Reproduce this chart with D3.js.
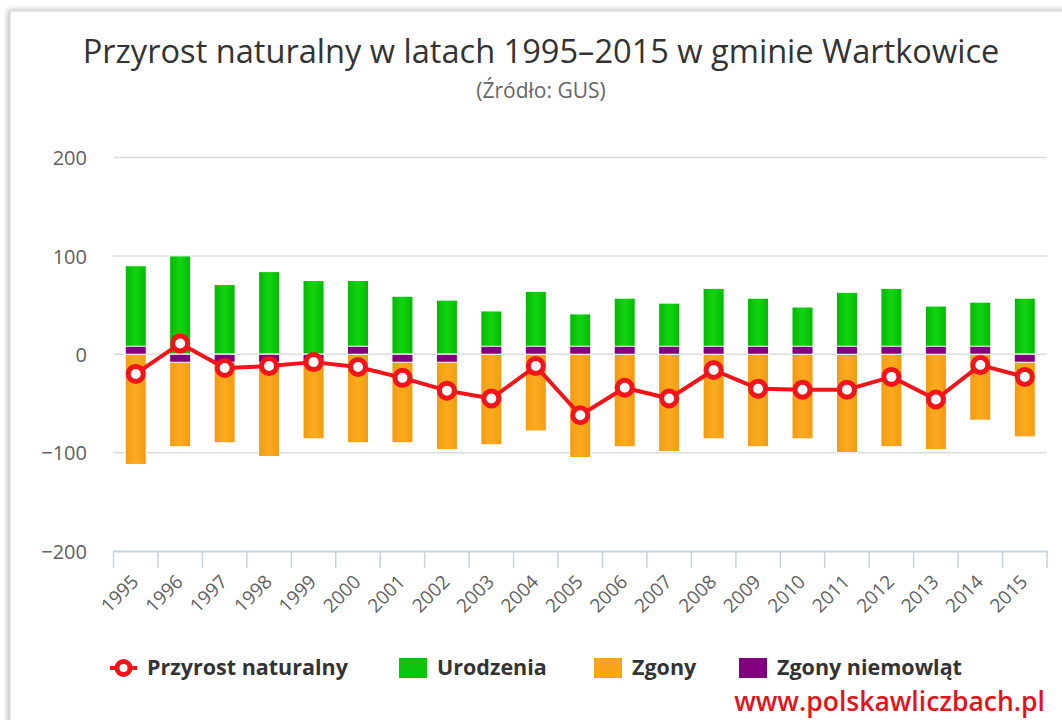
<!DOCTYPE html>
<html>
<head>
<meta charset="utf-8">
<script src="https://cdn.jsdelivr.net/npm/d3@7"></script>
<style>
  html, body { margin: 0; padding: 0; background: #fff; }
  svg { display: block; }
  text { font-family: "Open Sans", "DejaVu Sans", sans-serif; }
</style>
</head>
<body>
<svg id="chart" width="1062" height="720"></svg>
<script>
// ---- data ----
const years = ["1995","1996","1997","1998","1999","2000","2001","2002","2003","2004","2005",
               "2006","2007","2008","2009","2010","2011","2012","2013","2014","2015"];
const births = [90, 100, 71, 84, 75, 75, 59, 55, 44, 64, 41, 57, 52, 67, 57, 48, 63, 67, 49, 53, 57];
const deaths = [112, 94, 90, 104, 86, 90, 90, 97, 92, 78, 105, 94, 99, 86, 94, 86, 100, 94, 97, 67, 84];
const infantDeaths = [0, 1, 1, 1, 1, 0, 1, 1, 0, 0, 0, 0, 0, 0, 0, 0, 0, 0, 0, 0, 1];
const naturalGrowth = [-20, 11, -14, -12, -8, -13, -24, -37, -45, -12, -62, -34, -45, -16, -35, -36, -36, -23, -46, -11, -23];
const yTicks = [-200, -100, 0, 100, 200];
const titleText = "Przyrost naturalny w latach 1995–2015 w gminie Wartkowice";
const subtitleText = "(Źródło: GUS)";
const legendLabels = ["Przyrost naturalny", "Urodzenia", "Zgony", "Zgony niemowląt"];
const watermarkText = "www.polskawliczbach.pl";

// ---- setup ----
const svg = d3.select("#chart");
const defs = svg.append("defs");

const shadow = defs.append("filter").attr("id", "shadow")
  .attr("x", "-5%").attr("y", "-5%").attr("width", "110%").attr("height", "110%");
shadow.append("feDropShadow").attr("dx", -1).attr("dy", 0).attr("stdDeviation", 3)
  .attr("flood-color", "#000").attr("flood-opacity", 0.35);

function hGrad(id, edge, mid) {
  const g = defs.append("linearGradient").attr("id", id)
    .attr("x1", "0%").attr("x2", "100%").attr("y1", "0%").attr("y2", "0%");
  g.append("stop").attr("offset", "0%").attr("stop-color", edge);
  g.append("stop").attr("offset", "50%").attr("stop-color", mid);
  g.append("stop").attr("offset", "100%").attr("stop-color", edge);
}
hGrad("gGreen", "#02b802", "#12d412");
hGrad("gOrange", "#f29b12", "#fbab1e");

const colors = { line: "#f2141a", green: "url(#gGreen)", orange: "url(#gOrange)", purple: "#800080",
  greenSolid: "#0cc40c", orangeSolid: "#f8a41a" };

// card frame
svg.append("rect").attr("x", 10).attr("y", 11).attr("width", 1100).attr("height", 760)
  .attr("fill", "#fff").attr("stroke", "#d0d0d0").attr("stroke-width", 1)
  .attr("filter", "url(#shadow)");

const x = d3.scaleBand().domain(years).range([113.5, 1047]).paddingInner(0.527).paddingOuter(0.2635);
const y = d3.scaleLinear().domain([-200, 200]).range([551, 157.5]);
const bw = x.bandwidth();
const cx = d => x(d) + bw / 2;

// gridlines
svg.append("g").selectAll("line").data(yTicks.filter(t => t > -200)).join("line")
  .attr("x1", 113.5).attr("x2", 1047)
  .attr("y1", d => y(d)).attr("y2", d => y(d))
  .attr("stroke", "#dcdcdc").attr("stroke-width", 1.5);

// y axis labels
const yAxis = d3.axisLeft(y).tickValues(yTicks).tickSize(0).tickPadding(0)
  .tickFormat(d => d < 0 ? "−" + Math.abs(d) : d);
const yg = svg.append("g").attr("transform", "translate(87,0)").call(yAxis);
yg.select(".domain").remove();
yg.selectAll("text").attr("font-size", 20).attr("fill", "#606060")
  .attr("font-family", "'Open Sans', sans-serif").attr("dy", "0.36em");

// x axis
const xAxis = d3.axisBottom(x).tickSize(0).tickPadding(0);
const xg = svg.append("g").attr("transform", `translate(0,${y(-200)})`).call(xAxis);
xg.select(".domain").attr("stroke", "#c5d3e1").attr("stroke-width", 2);
xg.selectAll(".tick text").attr("font-size", 19).attr("fill", "#606060")
  .attr("font-family", "'Open Sans', sans-serif")
  .attr("text-anchor", "end").attr("dy", 0)
  .attr("transform", "translate(4,32) rotate(-45)");
// tick marks between categories
const bounds = years.map(d => x(d) - x.step() * x.paddingInner() / 2).concat([1047]);
bounds[0] = 113.5;
xg.append("g").selectAll("line").data(bounds).join("line")
  .attr("x1", d => d).attr("x2", d => d).attr("y1", 0).attr("y2", 17)
  .attr("stroke", "#c5d3e1").attr("stroke-width", 1.5);

// bars
const bars = svg.append("g");
bars.selectAll(".birth").data(years).join("rect").attr("class", "birth")
  .attr("x", d => x(d)).attr("width", bw)
  .attr("y", (d, i) => y(births[i])).attr("height", (d, i) => y(0) - y(births[i]))
  .attr("fill", colors.green).attr("stroke", "#fff").attr("stroke-width", 1);
bars.selectAll(".death").data(years).join("rect").attr("class", "death")
  .attr("x", d => x(d)).attr("width", bw)
  .attr("y", y(0)).attr("height", (d, i) => y(-deaths[i]) - y(0))
  .attr("fill", colors.orange).attr("stroke", "#fff").attr("stroke-width", 1);
// infant deaths: minimum visible length (0 drawn upward, negative downward)
const minLen = 8;
bars.selectAll(".infant").data(years).join("rect").attr("class", "infant")
  .attr("x", d => x(d)).attr("width", bw)
  .attr("y", (d, i) => infantDeaths[i] > 0 ? y(0) : y(0) - minLen)
  .attr("height", (d, i) => Math.max(minLen, Math.abs(y(-infantDeaths[i]) - y(0))))
  .attr("fill", colors.purple).attr("stroke", "#fff").attr("stroke-width", 1);

// line
const line = d3.line().x(d => cx(d[0])).y(d => y(d[1]));
const pts = years.map((d, i) => [d, naturalGrowth[i]]);
svg.append("path").datum(pts).attr("d", line)
  .attr("fill", "none").attr("stroke", colors.line).attr("stroke-width", 4)
  .attr("stroke-linejoin", "round");
svg.append("g").selectAll("circle").data(pts).join("circle")
  .attr("cx", d => cx(d[0])).attr("cy", d => y(d[1])).attr("r", 7.5)
  .attr("fill", "#fff").attr("stroke", colors.line).attr("stroke-width", 5);

// title
svg.append("text").attr("x", 541).attr("y", 63).attr("text-anchor", "middle")
  .attr("font-size", 32.6).attr("fill", "#333")
  .text(titleText);
svg.append("text").attr("x", 541).attr("y", 98).attr("text-anchor", "middle")
  .attr("font-size", 21).attr("fill", "#666")
  .text(subtitleText);

// legend
const lg = svg.append("g").attr("font-size", 21.5).attr("font-weight", "bold").attr("fill", "#333");
lg.append("line").attr("x1", 110).attr("x2", 137).attr("y1", 668).attr("y2", 668)
  .attr("stroke", colors.line).attr("stroke-width", 4);
lg.append("circle").attr("cx", 123.5).attr("cy", 668).attr("r", 6.5)
  .attr("fill", "#fff").attr("stroke", colors.line).attr("stroke-width", 5);
lg.append("text").attr("x", 147).attr("y", 675).text(legendLabels[0]);
const sq = [[399, colors.greenSolid, 437, 1], [594, colors.orangeSolid, 632, 2], [739, colors.purple, 777, 3]];
sq.forEach(s => {
  lg.append("rect").attr("x", s[0]).attr("y", 658).attr("width", 28).attr("height", 20)
    .attr("fill", s[1]);
  lg.append("text").attr("x", s[2]).attr("y", 675).text(legendLabels[s[3]]);
});

// watermark
svg.append("text").attr("x", 1045).attr("y", 711).attr("text-anchor", "end")
  .attr("font-size", 26.5).attr("fill", "#e3141c").attr("font-weight", 600)
  .text(watermarkText);
</script>
</body>
</html>
